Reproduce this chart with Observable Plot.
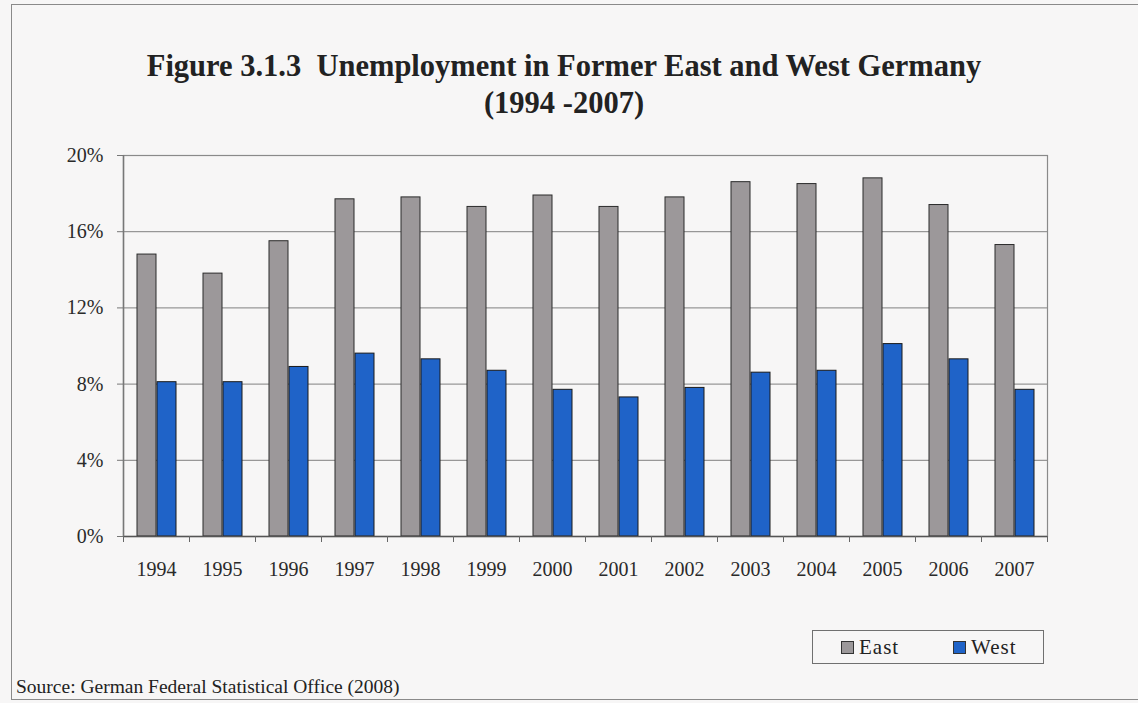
<!DOCTYPE html>
<html>
<head>
<meta charset="utf-8">
<script src="https://cdn.jsdelivr.net/npm/d3@7"></script>
<script src="https://cdn.jsdelivr.net/npm/@observablehq/plot@0.6"></script>
<style>
  html, body { margin: 0; padding: 0; background: #f7f6f6; }
  #root { position: relative; width: 1138px; height: 703px; overflow: hidden; background: #f7f6f6; font-family: "Liberation Serif", "Times New Roman", serif; }
  #outer { position: absolute; left: 11px; top: 4px; width: 1140px; height: 696px; border: 1.5px solid #8a8a8a; border-right: none; box-sizing: border-box; }
  #title { position: absolute; left: 0; top: 48px; width: 1128px; text-align: center; font-weight: bold; font-size: 30.5px; line-height: 37px; color: #222; white-space: pre; }
  #chart { position: absolute; left: 0; top: 0; }
  #legend { position: absolute; left: 812px; top: 630px; width: 232px; height: 34px; border: 1px solid #707070; box-sizing: border-box; font-size: 21px; color: #222; }
  .item { position: absolute; top: 4px; display: flex; align-items: center; height: 24px; }
  .sw { width: 11px; height: 11px; border: 1px solid #333; margin-right: 5px; }
  #source { position: absolute; left: 16px; top: 676px; font-size: 19.5px; color: #222; white-space: pre; }
</style>
</head>
<body>
<div id="root">
  <div id="outer"></div>
  <div id="title"></div>
  <div id="chart"></div>
  <div id="legend"></div>
  <div id="source"></div>
</div>
<script>
const years = ["1994","1995","1996","1997","1998","1999","2000","2001","2002","2003","2004","2005","2006","2007"];
const east = [14.8, 13.8, 15.5, 17.7, 17.8, 17.3, 17.9, 17.3, 17.8, 18.6, 18.5, 18.8, 17.4, 15.3];
const west = [8.1, 8.1, 8.9, 9.6, 9.3, 8.7, 7.7, 7.3, 7.8, 8.6, 8.7, 10.1, 9.3, 7.7];
const yTicks = [0, 4, 8, 12, 16, 20];
const seriesNames = ["East", "West"];
const seriesColors = ["#9c989a", "#1f63c8"];
const titleLines = ["Figure 3.1.3  Unemployment in Former East and West Germany", "(1994 -2007)"];
const sourceText = "Source: German Federal Statistical Office (2008)";

const data = years.map((y, i) => ({year: y, east: east[i], west: west[i]}));

const W = 1138, H = 600, ml = 123, mr = 91, mt = 155, mb = 64;
const bw = (W - ml - mr) / years.length;

const chart = Plot.plot({
  width: W, height: H,
  marginLeft: ml, marginRight: mr, marginTop: mt, marginBottom: mb,
  style: {fontFamily: "Liberation Serif, serif", fontSize: "20px", color: "#2a2a2a", background: "transparent"},
  x: {domain: years, padding: 0, axis: null, label: null},
  y: {domain: [0, 20], axis: null, label: null},
  marks: [
    Plot.gridY(yTicks, {stroke: "#808080", strokeOpacity: 1, strokeWidth: 1}),
    Plot.frame({stroke: "#8a8a8a", strokeWidth: 1.2}),
    Plot.barY(data, {x: "year", y: "east", fill: seriesColors[0], stroke: "#2b2b2b", strokeWidth: 1, insetLeft: 14, insetRight: 33}),
    Plot.barY(data, {x: "year", y: "west", fill: seriesColors[1], stroke: "#1a1a1a", strokeWidth: 1, insetLeft: 34, insetRight: 13}),
    Plot.ruleY([0], {stroke: "#555", strokeWidth: 1.5}),
    Plot.ruleX(years.slice(0, 1), {x: d => d, dx: -bw / 2, stroke: "#777", strokeWidth: 1.5}),
    Plot.axisY({ticks: yTicks, tickSize: 6, tickPadding: 14, tickFormat: d => d + "%", stroke: "#777", fill: "#2a2a2a", label: null}),
    Plot.axisX({tickSize: 6, tickFormat: () => "", dx: -bw / 2, stroke: "#666", label: null}),
    Plot.axisX({tickSize: 6, tickFormat: () => "", dx: bw / 2, stroke: "#666", label: null}),
    Plot.axisX({tickSize: 0, tickPadding: 25, fill: "#2a2a2a", label: null})
  ]
});
document.getElementById("chart").appendChild(chart);

document.getElementById("title").textContent = titleLines.join("\n");
document.getElementById("source").textContent = sourceText;

const legend = document.getElementById("legend");
const lefts = [28, 140];
seriesNames.forEach((n, i) => {
  const it = document.createElement("div");
  it.className = "item";
  it.style.left = lefts[i] + "px";
  const sw = document.createElement("div");
  sw.className = "sw";
  sw.style.background = seriesColors[i];
  const t = document.createElement("span");
  t.textContent = n;
  t.style.letterSpacing = "1px";
  it.appendChild(sw); it.appendChild(t);
  legend.appendChild(it);
});
</script>
</body>
</html>
